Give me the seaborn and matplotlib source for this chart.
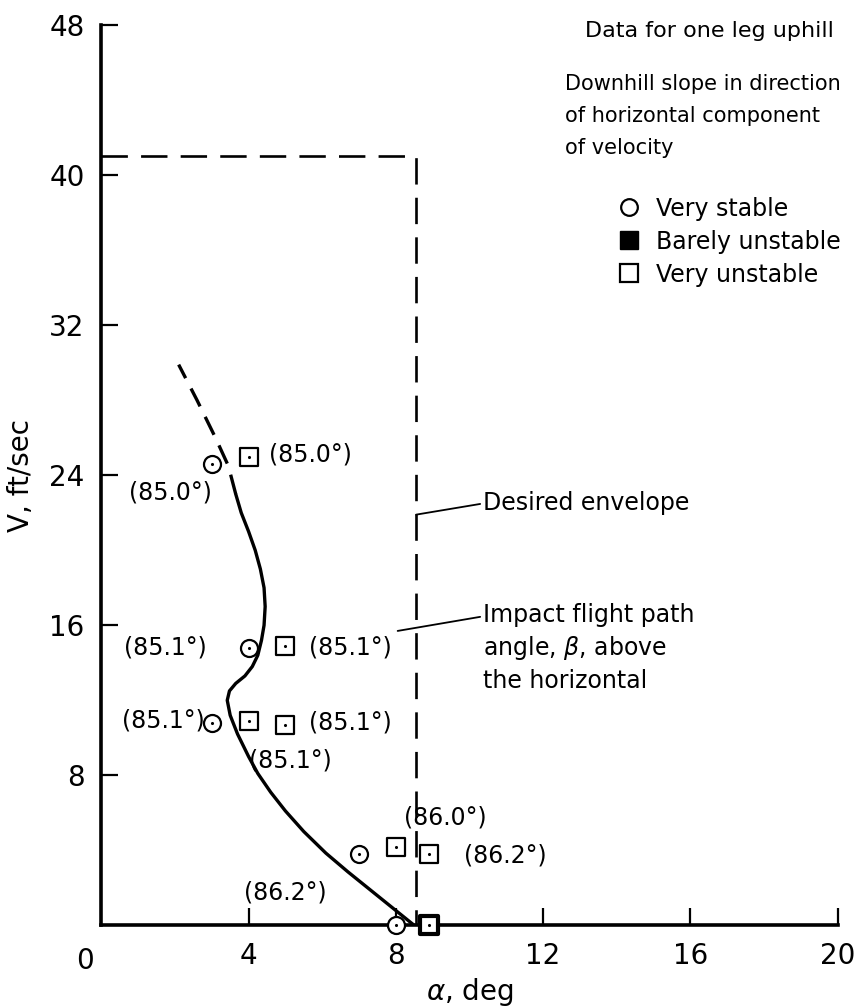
import numpy as np
import pandas as pd
import matplotlib.pyplot as plt
import seaborn as sns
from matplotlib.lines import Line2D

# Stability boundary (alpha in deg, V in ft/sec)
solid_alpha = [8.5, 7.9, 7.3, 6.7, 6.1, 5.5, 5.0, 4.6, 4.25, 4.0, 3.7, 3.5, 3.42, 3.48,
               3.65, 3.9, 4.1, 4.25, 4.35, 4.42, 4.45, 4.42, 4.32, 4.18, 4.0, 3.8, 3.65]
solid_v = [0.0, 0.95, 1.9, 2.85, 3.85, 5.0, 6.1, 7.1, 8.1, 9.0, 10.2, 11.2, 12.0, 12.5,
           12.9, 13.3, 13.8, 14.4, 15.2, 16.0, 17.0, 18.0, 19.0, 20.0, 21.0, 22.0, 23.0]
dash_alpha = [3.65, 3.45, 3.1, 2.6, 2.1]
dash_v = [23.0, 24.5, 26.0, 28.0, 29.9]

# Desired envelope
env_alpha = [0.0, 8.55, 8.55]
env_v = [41.0, 41.0, 0.0]

# Test points
stable_alpha = [3.0, 4.0, 3.0, 7.0, 8.0]
stable_v = [24.6, 14.8, 10.8, 3.8, 0.0]
unstable_alpha = [4.0, 5.0, 4.0, 5.0, 8.0, 8.9]
unstable_v = [25.0, 14.9, 10.9, 10.7, 4.2, 3.8]
edge_alpha = [8.9]
edge_v = [0.0]

# Impact flight path angle labels
beta_text = ['(85.0°)', '(85.0°)', '(85.1°)', '(85.1°)', '(85.1°)', '(85.1°)',
             '(85.1°)', '(86.0°)', '(86.2°)', '(86.2°)']
beta_alpha = [1.88, 5.68, 1.74, 6.77, 1.68, 6.77, 5.14, 9.35, 10.98, 5.0]
beta_v = [23.1, 25.1, 14.8, 14.8, 10.9, 10.8, 8.8, 5.76, 3.73, 1.76]

sns.set_style("ticks", {'text.color': 'black', 'axes.labelcolor': 'black',
                        'xtick.color': 'black', 'ytick.color': 'black',
                        'axes.edgecolor': 'black'})
plt.rcParams['font.family'] = ['DejaVu Sans']

fig = plt.figure(figsize=(8.59, 10.08), dpi=100)
ax = fig.add_axes([0.118, 0.082, 0.857, 0.893])

sns.lineplot(x=solid_alpha, y=solid_v, sort=False, estimator=None, color='black',
             linewidth=2.4, ax=ax)
sns.lineplot(x=dash_alpha, y=dash_v, sort=False, estimator=None, color='black',
             linewidth=2.4, linestyle=(0, (6, 3.5)), ax=ax)
sns.lineplot(x=env_alpha, y=env_v, sort=False, estimator=None, color='black',
             linewidth=1.9, linestyle=(0, (10, 5)), ax=ax)

kw = dict(facecolors='white', edgecolors='black', linewidth=1.6, zorder=5, clip_on=False, legend=False)
sns.scatterplot(x=stable_alpha, y=stable_v, marker='o', s=150, ax=ax, **kw)
sns.scatterplot(x=unstable_alpha, y=unstable_v, marker='s', s=160, ax=ax, **kw)
kw['linewidth'] = 3.0
sns.scatterplot(x=edge_alpha, y=edge_v, marker='s', s=170, ax=ax, **kw)
# center dots
sns.scatterplot(x=stable_alpha + unstable_alpha + edge_alpha, y=stable_v + unstable_v + edge_v,
                marker='o', s=5, color='black', linewidth=0, zorder=6, clip_on=False,
                legend=False, ax=ax)

for t, a, v in zip(beta_text, beta_alpha, beta_v):
    ax.text(a, v, t, ha='center', va='center', fontsize=17)

ax.annotate('Desired envelope', xy=(8.55, 21.9), xytext=(10.38, 22.5), fontsize=17,
            va='center', arrowprops=dict(arrowstyle='-', color='black', lw=1.3,
                                         shrinkA=0, shrinkB=0, relpos=(0, 0.5)))
ax.annotate('Impact flight path\nangle, $\\beta$, above\nthe horizontal', xy=(8.05, 15.7),
            xytext=(10.38, 17.2), fontsize=17, va='top', linespacing=1.35,
            arrowprops=dict(arrowstyle='-', color='black', lw=1.3, shrinkA=0, shrinkB=0,
                            relpos=(0, 0.85)))

ax.text(13.15, 47.7, 'Data for one leg uphill', fontsize=16, va='center')
ax.text(12.6, 45.4, 'Downhill slope in direction\nof horizontal component\nof velocity',
        fontsize=15, va='top', linespacing=1.75)

handles = [Line2D([], [], marker='o', linestyle='none', markersize=12, markerfacecolor='white',
                  markeredgecolor='black', markeredgewidth=1.6),
           Line2D([], [], marker='s', linestyle='none', markersize=13, markerfacecolor='black',
                  markeredgecolor='black'),
           Line2D([], [], marker='s', linestyle='none', markersize=13, markerfacecolor='white',
                  markeredgecolor='black', markeredgewidth=1.6)]
ax.legend(handles, ['Very stable', 'Barely unstable', 'Very unstable'], loc='upper left',
          bbox_to_anchor=(0.685, 0.82), frameon=False, fontsize=17, handletextpad=0.55,
          labelspacing=0.38, handlelength=1.2, borderaxespad=0)

ax.set_xlim(0, 20)
ax.set_ylim(0, 48)
ax.set_xticks([4, 8, 12, 16, 20])
ax.set_xticklabels(['4', '8', '12', '16', '20'])
ax.set_yticks([8, 16, 24, 32, 40, 48])
ax.tick_params(direction='in', length=12, width=1.6, labelsize=20, pad=12)
ax.text(-0.45, -1.9, '0', fontsize=20, ha='center', va='center')
for side in ['left', 'bottom']:
    ax.spines[side].set_linewidth(2.6)
sns.despine(ax=ax)
ax.set_xlabel('$\\alpha$, deg', fontsize=20, labelpad=4)
ax.set_ylabel('V, ft/sec', fontsize=20, labelpad=10)

plt.savefig('out.png', dpi=100)
